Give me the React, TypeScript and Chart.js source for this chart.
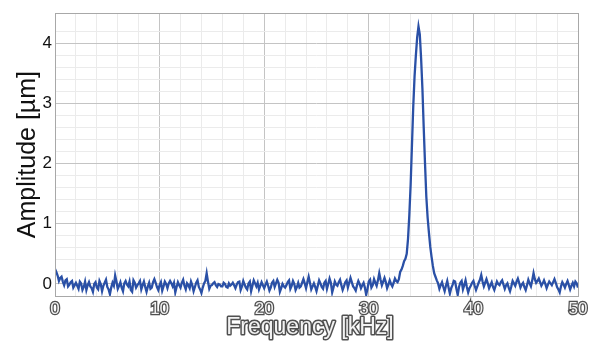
import React, { useEffect, useRef } from "react";
import { Chart, registerables } from "chart.js";

Chart.register(...registerables);

// Frequency sampling step (kHz) and amplitude readings (µm), 0 .. 50 kHz (8 per kHz)
const freqStepKHz = 0.125;
const amplitude: number[] = [
  0.25, 0.20, 0.14, 0.05, 0.10, 0.12, 0.04, -0.02,
  0.06, 0.08, -0.04, -0.01, 0.03, 0.05, -0.06, -0.02,
  0.02, -0.03, -0.08, 0.04, 0.01, -0.10, -0.05, 0.04,
  -0.10, -0.02, 0.03, -0.04, -0.07, -0.13, 0.00, 0.03,
  -0.06, -0.09, 0.05, 0.00, -0.12, -0.03, 0.02, 0.07,
  -0.05, -0.09, -0.17, -0.06, 0.02, -0.03, 0.14, 0.04,
  -0.08, -0.03, 0.03, -0.06, -0.12, 0.01, 0.05, -0.01,
  -0.04, 0.04, -0.10, -0.13, 0.06, 0.02, -0.06, -0.02,
  0.01, 0.05, -0.09, -0.02, 0.04, -0.05, -0.13, -0.04,
  0.02, -0.08, -0.06, 0.03, 0.08, 0.02, -0.05, -0.10,
  -0.02, 0.03, -0.11, -0.04, 0.04, 0.00, -0.07, 0.01,
  0.05, 0.01, -0.04, 0.02, -0.14, -0.05, 0.03, -0.02,
  -0.06, 0.02, 0.07, -0.03, -0.09, 0.01, -0.02, -0.07,
  0.04, -0.02, -0.12, -0.05, 0.02, 0.06, -0.05, -0.09,
  -0.15, -0.06, 0.01, 0.05, 0.18, 0.04, -0.08, -0.03,
  -0.02, 0.01, 0.03, -0.02, -0.05, 0.00, -0.01, -0.04,
  -0.04, 0.02, 0.00, -0.05, -0.06, 0.01, -0.03, -0.01,
  0.02, -0.02, -0.07, -0.01, 0.03, 0.04, -0.10, -0.04,
  0.05, -0.01, -0.06, -0.09, 0.01, 0.04, -0.12, -0.03,
  0.06, 0.01, -0.04, 0.02, -0.09, -0.03, 0.03, -0.02,
  -0.07, -0.01, 0.04, -0.03, -0.11, -0.06, 0.02, 0.05,
  -0.05, 0.01, 0.07, 0.02, -0.13, -0.07, 0.00, -0.04,
  -0.06, -0.02, 0.03, 0.06, -0.08, -0.03, 0.05, 0.00,
  -0.10, -0.05, 0.02, -0.06, -0.04, 0.02, 0.08, 0.01,
  -0.07, 0.03, 0.12, 0.02, -0.09, -0.04, 0.01, -0.05,
  -0.12, -0.03, 0.06, 0.01, -0.05, -0.08, 0.02, 0.05,
  -0.08, 0.00, 0.09, 0.02, -0.14, -0.06, 0.04, -0.01,
  -0.03, 0.03, 0.07, -0.02, -0.10, -0.04, 0.03, 0.06,
  -0.06, 0.02, 0.10, 0.03, -0.04, -0.07, -0.11, -0.02,
  0.05, 0.00, -0.07, -0.02, 0.02, -0.06, -0.18, -0.08,
  0.04, 0.07, -0.06, -0.02, 0.08, 0.02, -0.03, 0.06,
  0.18, 0.07, -0.02, 0.04, 0.10, 0.03, -0.07, -0.01,
  0.06, 0.00, -0.04, 0.02, 0.09, 0.05, 0.03, 0.08,
  0.20, 0.24, 0.30, 0.38, 0.42, 0.50, 0.75, 1.15,
  1.65, 2.30, 2.95, 3.45, 3.80, 4.10, 4.28, 4.15,
  3.75, 3.25, 2.60, 2.00, 1.45, 1.10, 0.85, 0.62,
  0.45, 0.30, 0.18, 0.12, 0.06, 0.01, -0.08, -0.02,
  0.03, -0.05, -0.12, -0.03, 0.05, -0.06, -0.16, -0.07,
  -0.02, 0.05, 0.04, -0.08, -0.18, -0.05, 0.02, 0.05,
  -0.09, -0.02, 0.06, -0.05, -0.14, -0.07, -0.03, 0.02,
  0.05, -0.03, -0.10, -0.04, 0.02, 0.07, 0.15, 0.04,
  -0.04, 0.02, 0.08, 0.01, -0.07, -0.02, 0.03, -0.05,
  -0.10, -0.03, 0.04, 0.00, -0.02, 0.03, 0.06, -0.01,
  -0.08, -0.02, 0.01, -0.06, -0.12, -0.04, 0.05, 0.01,
  -0.03, 0.04, 0.09, 0.02, -0.06, -0.01, 0.02, -0.05,
  -0.10, -0.02, 0.07, 0.01, -0.04, 0.06, 0.18, 0.08,
  0.02, 0.05, 0.09, 0.03, -0.03, 0.01, 0.06, 0.00,
  -0.07, -0.01, 0.04, 0.01, -0.02, 0.03, 0.08, 0.02,
  -0.05, -0.09, -0.14, -0.04, 0.03, -0.01, -0.06, 0.00,
  0.05, -0.02, -0.09, -0.03, 0.02, -0.04, 0.04, 0.01,
  -0.06,
];
const frequency: number[] = amplitude.map((_, i) => i * freqStepKHz);

const xMajorTicks = [0, 10, 20, 30, 40, 50];
const yMajorTicks = [0, 1, 2, 3, 4];
const xTitle = "Frequency [kHz]";
const yTitle = "Amplitude [µm]";

const FONT = '"Liberation Sans", Arial, sans-serif';

const near = (v: number, list: number[]) => list.some((t) => Math.abs(t - v) < 1e-6);

const frameAndTitlePlugin = {
  id: "frameAndTitle",
  afterDraw(chart: any) {
    const { ctx, chartArea } = chart;
    ctx.save();
    ctx.strokeStyle = "#a8a8a8";
    ctx.lineWidth = 1;
    ctx.strokeRect(
      Math.round(chartArea.left) + 0.5,
      Math.round(chartArea.top) + 0.5,
      Math.round(chartArea.right - chartArea.left),
      Math.round(chartArea.bottom - chartArea.top)
    );
    ctx.font = `23px ${FONT}`;
    ctx.textAlign = "center";
    ctx.textBaseline = "alphabetic";
    ctx.lineJoin = "round";
    ctx.lineWidth = 3;
    ctx.strokeStyle = "#505050";
    ctx.strokeText(xTitle, 310, 334);
    ctx.fillStyle = "#f2f2f2";
    ctx.fillText(xTitle, 310, 334);
    ctx.restore();
  },
};

export default function App() {
  const ref = useRef<HTMLCanvasElement>(null);
  useEffect(() => {
    if (!ref.current) return;
    const chart = new Chart(ref.current, {
      type: "line",
      data: {
        datasets: [
          {
            data: frequency.map((f, i) => ({ x: f, y: amplitude[i] })),
            borderColor: "#2a50a6",
            borderWidth: 2.3,
            pointRadius: 0,
            tension: 0,
            fill: false,
          },
        ],
      },
      options: {
        responsive: false,
        animation: false,
        layout: { padding: { top: 10, right: 17, left: 0, bottom: 0 } },
        plugins: { legend: { display: false }, tooltip: { enabled: false } },
        scales: {
          x: {
            type: "linear",
            min: 0,
            max: 50,
            afterFit: (s: any) => {
              s.height = 49;
            },
            border: { display: false },
            grid: {
              drawTicks: false,
              lineWidth: 1,
              color: (c: any) => (near(c.tick.value, xMajorTicks) ? "#c4c4c4" : "#ebebeb"),
            },
            ticks: {
              stepSize: 2,
              autoSkip: false,
              maxRotation: 0,
              padding: 3,
              font: { family: FONT, size: 17 },
              color: "#f2f2f2",
              textStrokeColor: "#505050",
              textStrokeWidth: 2.5,
              callback: (v: any) => (near(Number(v), xMajorTicks) ? String(Math.round(Number(v))) : ""),
            },
          },
          y: {
            type: "linear",
            min: -0.2,
            max: 4.5,
            afterFit: (s: any) => {
              s.width = 55;
            },
            border: { display: false },
            grid: {
              drawTicks: false,
              lineWidth: 1,
              color: (c: any) => (near(c.tick.value, yMajorTicks) ? "#c4c4c4" : "#ebebeb"),
            },
            ticks: {
              stepSize: 0.2,
              autoSkip: false,
              padding: 3,
              font: { family: FONT, size: 17 },
              color: "#111111",
              callback: (v: any) => (near(Number(v), yMajorTicks) ? String(Math.round(Number(v))) : ""),
            },
            title: {
              display: true,
              text: yTitle,
              color: "#111111",
              font: { family: FONT, size: 25 },
              padding: { top: 13, bottom: 0 },
            },
          },
        },
      },
      plugins: [frameAndTitlePlugin],
    });
    return () => chart.destroy();
  }, []);
  return (
    <div style={{ position: "fixed", left: 0, top: 0, width: 595, height: 345, background: "#fff" }}>
      <canvas ref={ref} width={595} height={345} />
    </div>
  );
}
